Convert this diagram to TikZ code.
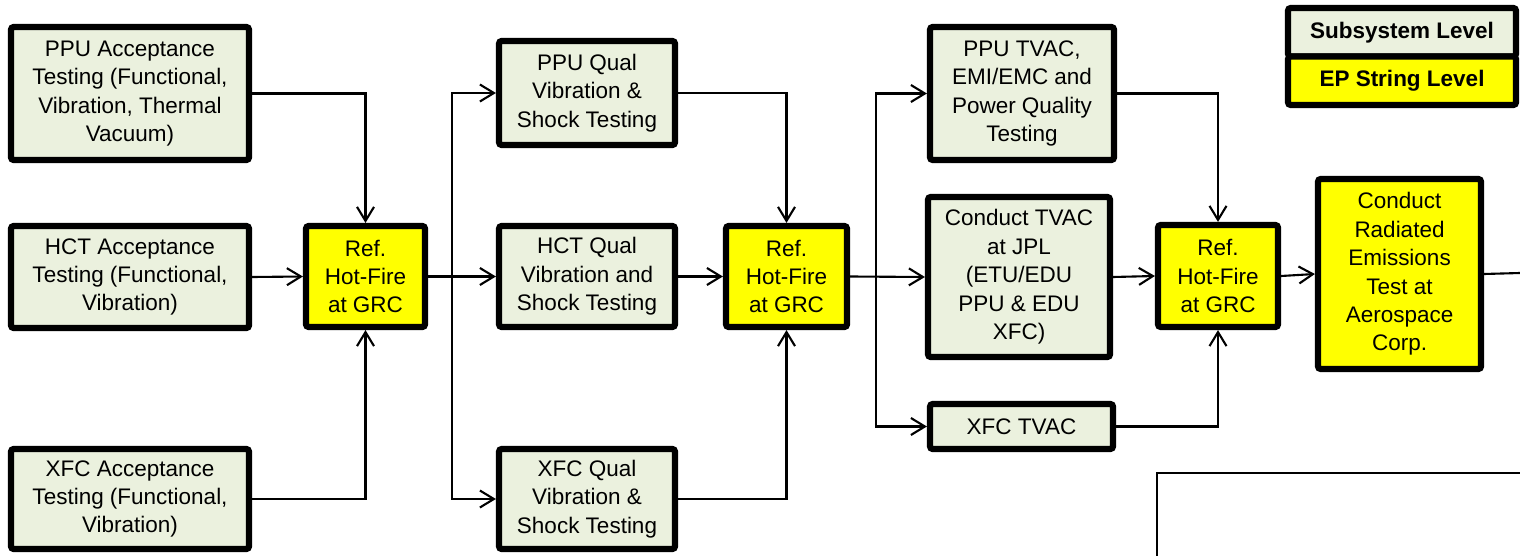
\documentclass[tikz,border=0pt]{standalone}
\usepackage{fontspec}
\setmainfont{Liberation Sans}
\usetikzlibrary{arrows.meta}
\definecolor{subgreen}{HTML}{EBF1DE}
\definecolor{epyellow}{HTML}{FFFF00}

\begin{document}
\begin{tikzpicture}[
  every node/.style={draw,line width=3.5pt,rounded corners=1.5pt,align=center,
    font=\fontsize{12.8}{16.2}\selectfont,inner sep=2pt},
  sub/.style={fill=subgreen},
  ep/.style={fill=epyellow},
  every path/.style={line width=1.2pt},
  >={Straight Barb[length=2.8mm,width=3.4mm]}
]
\useasboundingbox (0,0) rectangle (30.4,-11.12);
% subsystem tests
\node[sub,minimum width=4.76cm,minimum height=2.66cm] (ppuacc) at (2.60,-1.87)
  {PPU Acceptance\\Testing (Functional,\\Vibration, Thermal\\Vacuum)};
\node[sub,minimum width=4.76cm,minimum height=2.04cm] (hctacc) at (2.60,-5.54)
  {HCT Acceptance\\Testing (Functional,\\Vibration)};
\node[sub,minimum width=4.76cm,minimum height=2.00cm] (xfcacc) at (2.60,-9.98)
  {XFC Acceptance\\Testing (Functional,\\Vibration)};
\node[ep,minimum width=2.38cm,minimum height=2.02cm] (ref1) at (7.31,-5.53)
  {Ref.\\Hot-Fire\\at GRC};
\node[sub,minimum width=3.52cm,minimum height=2.08cm] (ppuqual) at (11.74,-1.86)
  {PPU Qual\\Vibration \&\\Shock Testing};
\node[sub,minimum width=3.52cm,minimum height=2.02cm] (hctqual) at (11.74,-5.53)
  {HCT Qual\\Vibration and\\Shock Testing};
\node[sub,minimum width=3.52cm,minimum height=2.00cm] (xfcqual) at (11.74,-9.98)
  {XFC Qual\\Vibration \&\\Shock Testing};
\node[ep,minimum width=2.42cm,minimum height=2.02cm] (ref2) at (15.73,-5.53)
  {Ref.\\Hot-Fire\\at GRC};
\node[sub,minimum width=3.68cm,minimum height=2.66cm] (pputvac) at (20.44,-1.87)
  {PPU TVAC,\\EMI/EMC and\\Power Quality\\Testing};
\node[sub,minimum width=3.64cm,minimum height=3.20cm] (jpltvac) at (20.38,-5.54)
  {Conduct TVAC\\at JPL\\(ETU/EDU\\PPU \& EDU\\XFC)};
\node[sub,minimum width=3.66cm,minimum height=0.90cm] (xfctvac) at (20.43,-8.53)
  {XFC TVAC};
\node[ep,minimum width=2.40cm,minimum height=2.04cm] (ref3) at (24.36,-5.52)
  {Ref.\\Hot-Fire\\at GRC};
\node[ep,minimum width=3.26cm,minimum height=3.80cm] (radem) at (27.99,-5.48)
  {Conduct\\Radiated\\Emissions\\Test at\\Aerospace\\Corp.};
% legend
\node[sub,minimum width=4.56cm,minimum height=0.97cm,font=\fontsize{12.8}{16.2}\selectfont\bfseries]
  (legsub) at (28.04,-0.645) {Subsystem Level};
\node[ep,minimum width=4.56cm,minimum height=0.97cm,font=\fontsize{12.8}{16.2}\selectfont\bfseries]
  (legep) at (28.04,-1.615) {EP String Level};
% connectors
\coordinate (split1) at (9.04,-5.53);
\coordinate (split2) at (17.52,-5.53);
\coordinate (offpage) at (30.4,-5.46);
\draw[->] (ppuacc.east) -| (ref1.north);
\draw[->] (hctacc.east) -- (ref1.west);
\draw[->] (xfcacc.east) -| (ref1.south);
\draw[->] (ref1.east) -- (hctqual.west);
\draw[->] (split1) |- (ppuqual.west);
\draw[->] (split1) |- (xfcqual.west);
\draw[->] (ppuqual.east) -| (ref2.north);
\draw[->] (hctqual.east) -- (ref2.west);
\draw[->] (xfcqual.east) -| (ref2.south);
\draw[->] (ref2.east) -- (jpltvac.west);
\draw[->] (split2) |- (pputvac.west);
\draw[->] (split2) |- (xfctvac.west);
\draw[->] (pputvac.east) -| (ref3.north);
\draw[->] (jpltvac.east) -- (ref3.west);
\draw[->] (xfctvac.east) -| (ref3.south);
\draw[->] (ref3.east) -- (radem.west);
\draw (radem.east) -- (offpage);
% cut-off panel, lower right
\coordinate (panel) at (23.14,-9.46);
\draw (30.4,-9.46) -- (panel) -- (23.14,-11.12);
\end{tikzpicture}
\end{document}
